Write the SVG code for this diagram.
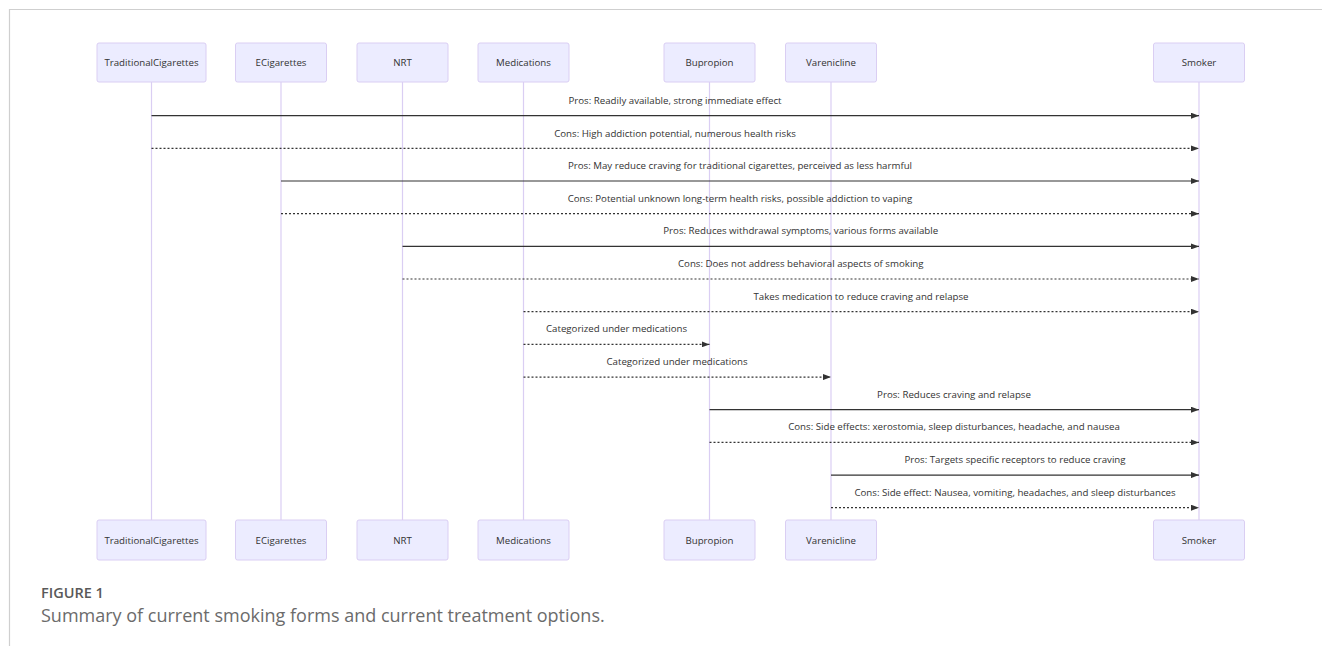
<svg xmlns="http://www.w3.org/2000/svg" width="1322" height="646" viewBox="0 0 1322 646">
<style>
.frame{fill:none;stroke:#cfcfcf;stroke-width:1.2}
.box{fill:#ECECFF;stroke:#DACEF3;stroke-width:1}
.life{stroke:#DACEF3;stroke-width:1.2}
.lbl{font-family:"Open Sans","Liberation Sans",sans-serif;font-size:9.7px;fill:#333;text-anchor:middle}
.msg{stroke:#333;stroke-width:1.2;fill:none;marker-end:url(#ah)}
.dot{stroke-dasharray:2,2}
.cap1{font-family:"Open Sans","Liberation Sans",sans-serif;font-size:14.5px;font-weight:600;fill:#595959}
.cap2{font-family:"Open Sans","Liberation Sans",sans-serif;font-size:18px;font-weight:400;fill:#6b6b6b}
</style>
<defs>
<marker id="ah" markerUnits="userSpaceOnUse" markerWidth="8" markerHeight="6" refX="8" refY="3" orient="auto">
<path d="M0,0 L8,3 L0,6 z" fill="#333"/>
</marker>
</defs>
<rect width="1322" height="646" fill="#fff"/>
<path class="frame" d="M9.5,646 L9.5,9.5 L1322,9.5"/>

<g id="lifelines">
<line class="life" x1="151.5" y1="82" x2="151.5" y2="520"/>
<line class="life" x1="281" y1="82" x2="281" y2="520"/>
<line class="life" x1="402.5" y1="82" x2="402.5" y2="520"/>
<line class="life" x1="523.5" y1="82" x2="523.5" y2="520"/>
<line class="life" x1="709.5" y1="82" x2="709.5" y2="520"/>
<line class="life" x1="831" y1="82" x2="831" y2="520"/>
<line class="life" x1="1199" y1="82" x2="1199" y2="520"/>
</g>

<g id="TraditionalCigarettes">
<rect class="box" x="97" y="43" width="109" height="39" rx="2"/><text class="lbl" x="151.5" y="66">TraditionalCigarettes</text>
<rect class="box" x="97" y="520" width="109" height="40" rx="2"/><text class="lbl" x="151.5" y="543.5">TraditionalCigarettes</text>
</g>
<g id="ECigarettes">
<rect class="box" x="235.5" y="43" width="91" height="39" rx="2"/><text class="lbl" x="281" y="66">ECigarettes</text>
<rect class="box" x="235.5" y="520" width="91" height="40" rx="2"/><text class="lbl" x="281" y="543.5">ECigarettes</text>
</g>
<g id="NRT">
<rect class="box" x="357" y="43" width="91" height="39" rx="2"/><text class="lbl" x="402.5" y="66">NRT</text>
<rect class="box" x="357" y="520" width="91" height="40" rx="2"/><text class="lbl" x="402.5" y="543.5">NRT</text>
</g>
<g id="Medications">
<rect class="box" x="478" y="43" width="91" height="39" rx="2"/><text class="lbl" x="523.5" y="66">Medications</text>
<rect class="box" x="478" y="520" width="91" height="40" rx="2"/><text class="lbl" x="523.5" y="543.5">Medications</text>
</g>
<g id="Bupropion">
<rect class="box" x="664" y="43" width="91" height="39" rx="2"/><text class="lbl" x="709.5" y="66">Bupropion</text>
<rect class="box" x="664" y="520" width="91" height="40" rx="2"/><text class="lbl" x="709.5" y="543.5">Bupropion</text>
</g>
<g id="Varenicline">
<rect class="box" x="785.5" y="43" width="91" height="39" rx="2"/><text class="lbl" x="831" y="66">Varenicline</text>
<rect class="box" x="785.5" y="520" width="91" height="40" rx="2"/><text class="lbl" x="831" y="543.5">Varenicline</text>
</g>
<g id="Smoker">
<rect class="box" x="1153.5" y="43" width="91" height="39" rx="2"/><text class="lbl" x="1199" y="66">Smoker</text>
<rect class="box" x="1153.5" y="520" width="91" height="40" rx="2"/><text class="lbl" x="1199" y="543.5">Smoker</text>
</g>

<g id="connectors">
<text class="lbl" x="675" y="104">Pros: Readily available, strong immediate effect</text>
<line class="msg" x1="151.5" y1="115.7" x2="1199" y2="115.7"/>
<text class="lbl" x="675" y="136.5">Cons: High addiction potential, numerous health risks</text>
<line class="msg dot" x1="151.5" y1="148.4" x2="1199" y2="148.4"/>
<text class="lbl" x="740" y="169">Pros: May reduce craving for traditional cigarettes, perceived as less harmful</text>
<line class="msg" x1="281" y1="181" x2="1199" y2="181"/>
<text class="lbl" x="740" y="201.7">Cons: Potential unknown long-term health risks, possible addiction to vaping</text>
<line class="msg dot" x1="281" y1="213.7" x2="1199" y2="213.7"/>
<text class="lbl" x="800.75" y="234.4">Pros: Reduces withdrawal symptoms, various forms available</text>
<line class="msg" x1="402.5" y1="246.4" x2="1199" y2="246.4"/>
<text class="lbl" x="800.75" y="267">Cons: Does not address behavioral aspects of smoking</text>
<line class="msg dot" x1="402.5" y1="279" x2="1199" y2="279"/>
<text class="lbl" x="861" y="299.7">Takes medication to reduce craving and relapse</text>
<line class="msg dot" x1="523.5" y1="311.7" x2="1199" y2="311.7"/>
<text class="lbl" x="616.5" y="332.4">Categorized under medications</text>
<line class="msg dot" x1="523.5" y1="344.4" x2="709.5" y2="344.4"/>
<text class="lbl" x="677" y="365.1">Categorized under medications</text>
<line class="msg dot" x1="523.5" y1="377.1" x2="831" y2="377.1"/>
<text class="lbl" x="954" y="397.7">Pros: Reduces craving and relapse</text>
<line class="msg" x1="709.5" y1="409.7" x2="1199" y2="409.7"/>
<text class="lbl" x="954" y="430.4">Cons: Side effects: xerostomia, sleep disturbances, headache, and nausea</text>
<line class="msg dot" x1="709.5" y1="442.4" x2="1199" y2="442.4"/>
<text class="lbl" x="1015" y="463.1">Pros: Targets specific receptors to reduce craving</text>
<line class="msg" x1="831" y1="475.1" x2="1199" y2="475.1"/>
<text class="lbl" x="1015" y="495.7">Cons: Side effect: Nausea, vomiting, headaches, and sleep disturbances</text>
<line class="msg dot" x1="831" y1="507.7" x2="1199" y2="507.7"/>
</g>

<text class="cap1" x="41" y="598">FIGURE 1</text>
<text class="cap2" x="41" y="622">Summary of current smoking forms and current treatment options.</text>
</svg>
